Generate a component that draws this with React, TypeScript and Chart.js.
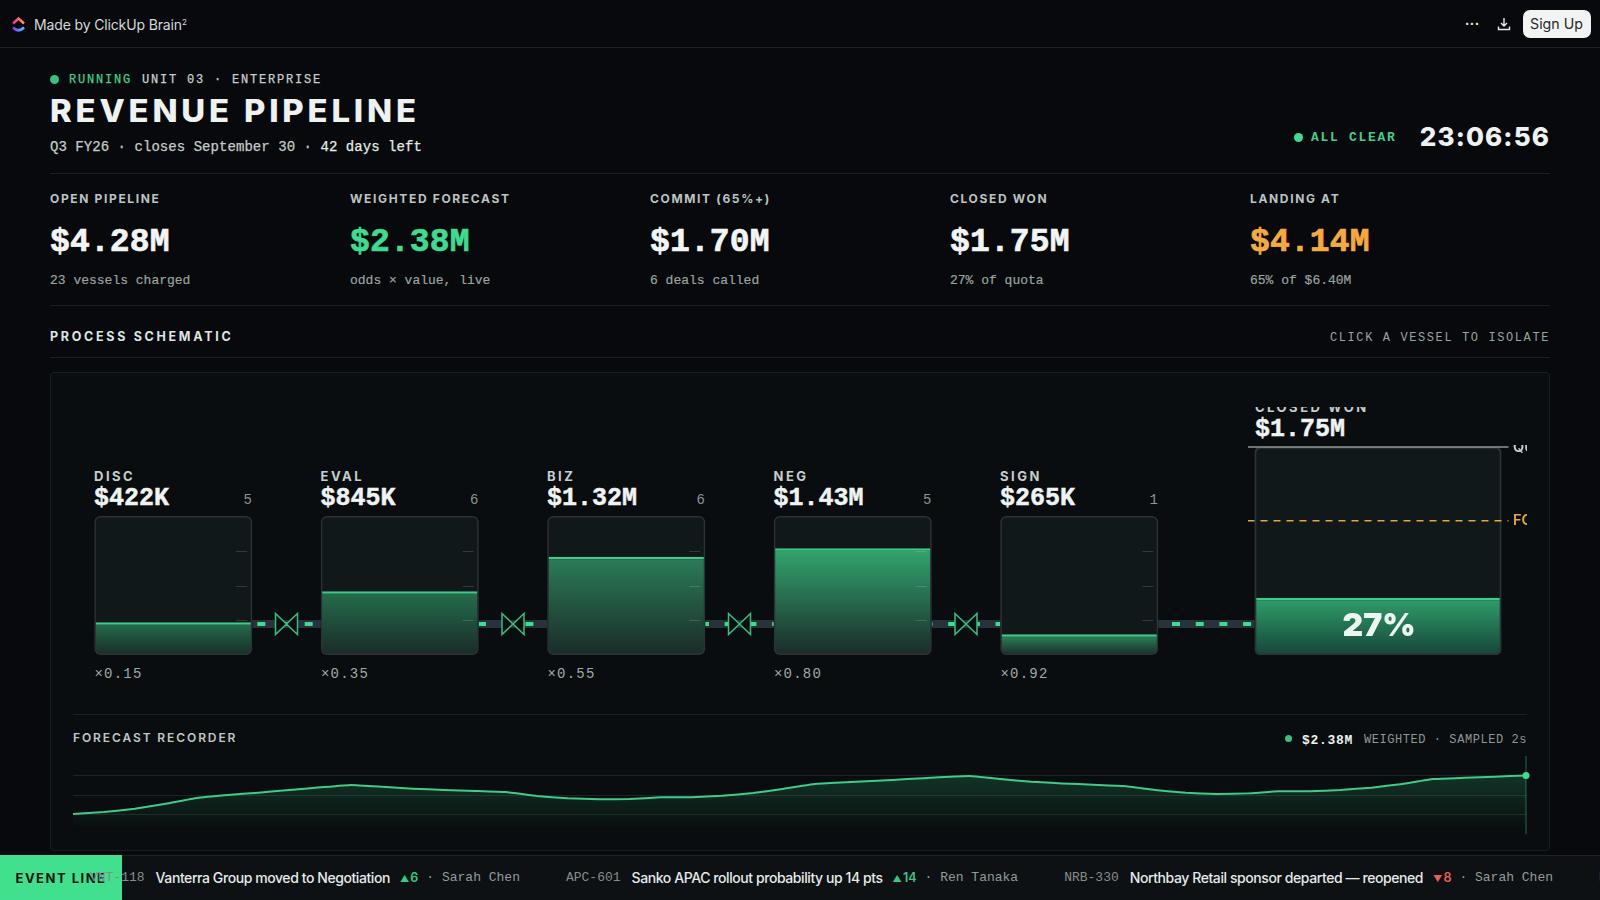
import { useEffect, useRef } from "react";
import type { CSSProperties, ReactNode } from "react";
import { Chart, registerables } from "chart.js";

Chart.register(...registerables);

const stageLabels = ["DISC", "EVAL", "BIZ", "NEG", "SIGN"];
const stageAmounts = ["$422K", "$845K", "$1.32M", "$1.43M", "$265K"];
const stageCounts = [5, 6, 6, 5, 1];
const stageOdds = ["×0.15", "×0.35", "×0.55", "×0.80", "×0.92"];
// fill level of each vessel, % of its height
const stageLevels = [23.5, 45.8, 70.7, 76.8, 14.9];
const tankMarks = [25, 50, 75];

const closedLabels = ["CLOSED WON"];
const closedLevels = [27.5];
const closedText = "27%";
const closedAmount = "$1.75M";
const quotaLevel = 100;
const forecastLevel = 64.6;

// forecast in $M, one sample per step
const recorderValues = [
  2.143, 2.155, 2.176, 2.206, 2.242, 2.26, 2.274, 2.291, 2.307, 2.322, 2.311, 2.299,
  2.291, 2.285, 2.278, 2.254, 2.24, 2.234, 2.235, 2.246, 2.246, 2.256, 2.272, 2.299,
  2.328, 2.338, 2.348, 2.358, 2.369, 2.377, 2.358, 2.342, 2.331, 2.323, 2.315, 2.291,
  2.274, 2.266, 2.27, 2.283, 2.283, 2.291, 2.305, 2.328, 2.358, 2.366, 2.373, 2.38,
];

const kpiLabels = ["OPEN PIPELINE", "WEIGHTED FORECAST", "COMMIT (65%+)", "CLOSED WON", "LANDING AT"];
const kpiValues = ["$4.28M", "$2.38M", "$1.70M", "$1.75M", "$4.14M"];
const kpiNotes = ["23 vessels charged", "odds × value, live", "6 deals called", "27% of quota", "65% of $6.40M"];

const tickerCodes = ["VNT-118", "APC-601", "NRB-330", "HLX-204"];
const tickerTitles = [
  "Vanterra Group moved to Negotiation",
  "Sanko APAC rollout probability up 14 pts",
  "Northbay Retail sponsor departed — reopened",
  "",
];
const tickerArrows = ["▲", "▲", "▼", ""];
const tickerDeltas = ["6", "14", "8", ""];
const tickerOwners = ["Sarah Chen", "Ren Tanaka", "Sarah Chen", ""];

const MONO = '"Liberation Mono", monospace';
const SANS = 'Inter, "Liberation Sans", sans-serif';
const GREEN = "#3ddc8f";
const LINE = "#1b2022";

const fillTops = ["#24704c", "#246e4c", "#2b7d57", "#33a56e", "#2a8a5e"];

function barGradient(c: any, top: string, bottom: string) {
  const area = c.chart.chartArea;
  if (!area || typeof c.raw !== "number") return top;
  const y = c.chart.scales.y.getPixelForValue(c.raw);
  const g = c.chart.ctx.createLinearGradient(0, y, 0, area.bottom);
  g.addColorStop(0, top);
  g.addColorStop(1, bottom);
  return g;
}

const tankMarksPlugin = {
  id: "tankMarks",
  afterDatasetsDraw(chart: any) {
    const { ctx, scales } = chart;
    const bars = chart.getDatasetMeta(0).data;
    ctx.save();
    ctx.strokeStyle = "rgba(255,255,255,0.15)";
    ctx.lineWidth = 1;
    bars.forEach((bar: any) => {
      const right = bar.x + 79 - 5;
      tankMarks.forEach((m) => {
        const y = Math.round(scales.y.getPixelForValue(m)) + 0.5;
        ctx.beginPath();
        ctx.moveTo(right - 11, y);
        ctx.lineTo(right, y);
        ctx.stroke();
      });
    });
    ctx.restore();
  },
};

const closedLinesPlugin = {
  id: "closedLines",
  afterDatasetsDraw(chart: any) {
    const { ctx, scales, chartArea } = chart;
    const refLine = (level: number, color: string, text: string, dash: number[], width: number, labelColor: string) => {
      const y = scales.y.getPixelForValue(level);
      ctx.save();
      ctx.strokeStyle = color;
      ctx.lineWidth = width;
      ctx.setLineDash(dash);
      ctx.beginPath();
      ctx.moveTo(chartArea.left - 7, y);
      ctx.lineTo(chartArea.right + 7, y);
      ctx.stroke();
      ctx.setLineDash([]);
      ctx.fillStyle = labelColor;
      ctx.font = `600 14.5px ${SANS}`;
      ctx.textBaseline = "middle";
      ctx.fillText(text, chartArea.right + 11.5, y + 0.5);
      ctx.restore();
    };
    refLine(quotaLevel, "#8f9897", "QUOTA", [], 1.5, "#c6cfcd");
    refLine(forecastLevel, "#e6a63d", "FORECAST", [7, 6], 1.5, "#e6a63d");

    const bar = chart.getDatasetMeta(0).data[0];
    ctx.save();
    ctx.fillStyle = "#eef6f2";
    ctx.font = `900 32px ${SANS}`;
    ctx.textAlign = "center";
    ctx.textBaseline = "middle";
    ctx.fillText(closedText, bar.x + 1, 181);
    ctx.restore();
  },
};

const cursorPlugin = {
  id: "cursor",
  afterDatasetsDraw(chart: any) {
    const { ctx, chartArea } = chart;
    const pt = chart.getDatasetMeta(0).data[recorderValues.length - 1];
    ctx.save();
    ctx.strokeStyle = "rgba(61,220,143,0.45)";
    ctx.lineWidth = 1;
    ctx.beginPath();
    ctx.moveTo(pt.x, chartArea.top);
    ctx.lineTo(pt.x, chartArea.bottom);
    ctx.stroke();
    ctx.fillStyle = GREEN;
    ctx.beginPath();
    ctx.arc(pt.x, pt.y, 3.5, 0, Math.PI * 2);
    ctx.fill();
    ctx.restore();
  },
};

function useChart(config: () => any) {
  const ref = useRef<HTMLCanvasElement | null>(null);
  useEffect(() => {
    const chart = new Chart(ref.current!, config());
    return () => chart.destroy();
  }, []);
  return ref;
}

const baseOptions = {
  animation: false,
  responsive: true,
  maintainAspectRatio: false,
  plugins: { legend: { display: false }, tooltip: { enabled: false } },
};

const tankStyle = {
  backgroundColor: "#10181a",
  borderWidth: 0,
  borderRadius: 6,
  borderSkipped: false,
};
const rimStyle = {
  backgroundColor: "transparent",
  borderColor: "#2b3337",
  borderWidth: 1.5,
  borderRadius: 6,
  borderSkipped: false,
};
const fillStyle = {
  borderColor: "#3fcb88",
  borderWidth: { top: 2.5, left: 0, right: 0, bottom: 0 },
  borderRadius: { topLeft: 0, topRight: 0, bottomLeft: 5, bottomRight: 5 },
  borderSkipped: false,
};

function StageChart() {
  const ref = useChart(() => ({
    type: "bar",
    data: {
      labels: stageLabels,
      datasets: [
        {
          data: stageLevels,
          order: 2,
          barPercentage: 156 / 226.5,
          categoryPercentage: 1,
          backgroundColor: (c: any) => barGradient(c, fillTops[c.dataIndex] ?? fillTops[0], "#1a2b29"),
          ...fillStyle,
        },
        {
          data: stageLabels.map(() => 100),
          order: 3,
          barPercentage: 158 / 226.5,
          categoryPercentage: 1,
          ...tankStyle,
        },
        {
          data: stageLabels.map(() => 100),
          order: 1,
          barPercentage: 158 / 226.5,
          categoryPercentage: 1,
          ...rimStyle,
        },
      ],
    },
    options: {
      ...baseOptions,
      scales: {
        x: { display: false, stacked: true },
        y: { display: false, min: 0, max: 100 },
      },
    },
    plugins: [tankMarksPlugin],
  }));
  return (
    <div style={{ position: "absolute", left: 59.5, top: 516, width: 1132.5, height: 139 }}>
      <canvas ref={ref} />
    </div>
  );
}

function ClosedChart() {
  const ref = useChart(() => ({
    type: "bar",
    data: {
      labels: closedLabels,
      datasets: [
        {
          data: closedLevels,
          order: 2,
          barPercentage: 244 / 246,
          categoryPercentage: 1,
          backgroundColor: (c: any) => barGradient(c, "#2f9f69", "#16453a"),
          ...fillStyle,
        },
        {
          data: [100],
          order: 3,
          barPercentage: 1,
          categoryPercentage: 1,
          ...tankStyle,
        },
        {
          data: [100],
          order: 1,
          barPercentage: 1,
          categoryPercentage: 1,
          ...rimStyle,
        },
      ],
    },
    options: {
      ...baseOptions,
      layout: { padding: { left: 6.5, right: 25.5, top: 2, bottom: 0 } },
      scales: {
        x: { display: false, stacked: true },
        y: { display: false, min: 0, max: 100 },
      },
    },
    plugins: [closedLinesPlugin],
  }));
  return (
    <div style={{ position: "absolute", left: 1248, top: 445, width: 279, height: 210 }}>
      <canvas ref={ref} />
    </div>
  );
}

function RecorderChart() {
  const ref = useChart(() => ({
    type: "line",
    data: {
      labels: recorderValues.map((_, i) => i),
      datasets: [
        {
          data: recorderValues,
          borderColor: "#3fcb88",
          borderWidth: 2,
          pointRadius: 0,
          tension: 0.1,
          fill: "start",
          backgroundColor: (c: any) => {
            const area = c.chart.chartArea;
            if (!area) return "transparent";
            const g = c.chart.ctx.createLinearGradient(0, area.top, 0, area.bottom);
            g.addColorStop(0, "rgba(61,220,143,0.26)");
            g.addColorStop(0.95, "rgba(61,220,143,0)");
            return g;
          },
        },
      ],
    },
    options: {
      ...baseOptions,
      layout: { padding: { left: 0, right: 5, top: 0, bottom: 0 } },
      scales: {
        x: { display: false, offset: false },
        y: {
          min: 2.02,
          max: 2.5,
          border: { display: false },
          ticks: { display: false, stepSize: 0.12 },
          afterFit: (s: any) => {
            s.width = 0;
          },
          grid: {
            drawTicks: false,
            color: (c: any) => (c.index === 0 || c.index === 4 ? "transparent" : "#1e2325"),
          },
        },
      },
    },
    plugins: [cursorPlugin],
  }));
  return (
    <div style={{ position: "absolute", left: 73, top: 756, width: 1458, height: 78 }}>
      <canvas ref={ref} />
    </div>
  );
}

function T(props: { x?: number; right?: number; y: number; style?: CSSProperties; children: ReactNode }) {
  const { x, right, y, style, children } = props;
  return (
    <div
      style={{
        position: "absolute",
        left: x,
        right: right !== undefined ? 1600 - right : undefined,
        top: y,
        transform: "translateY(-50%)",
        whiteSpace: "nowrap",
        lineHeight: 1,
        ...style,
      }}
    >
      {children}
    </div>
  );
}

function Rule(props: { x: number; y: number; w: number; color?: string }) {
  return (
    <div
      style={{
        position: "absolute",
        left: props.x,
        top: props.y,
        width: props.w,
        height: 1,
        background: props.color ?? LINE,
      }}
    />
  );
}

function Dot(props: { x: number; y: number; r: number; color: string }) {
  return (
    <div
      style={{
        position: "absolute",
        left: props.x - props.r,
        top: props.y - props.r,
        width: props.r * 2,
        height: props.r * 2,
        borderRadius: "50%",
        background: props.color,
      }}
    />
  );
}

function TopBar() {
  return (
    <>
      <svg style={{ position: "absolute", left: 11, top: 15 }} width="15" height="18" viewBox="0 0 15 18">
        <defs>
          <linearGradient id="lgTop" x1="0" x2="1" y1="0" y2="0">
            <stop offset="0" stopColor="#e8359a" />
            <stop offset="1" stopColor="#ffa12b" />
          </linearGradient>
          <linearGradient id="lgBot" x1="0" x2="1" y1="0" y2="0">
            <stop offset="0" stopColor="#8930fd" />
            <stop offset="1" stopColor="#49ccf9" />
          </linearGradient>
        </defs>
        <path d="M2 8.5 L7.5 3.5 L13 8.5" fill="none" stroke="url(#lgTop)" strokeWidth="2.6" />
        <path d="M2 12.5 Q7.5 18 13 12.5" fill="none" stroke="url(#lgBot)" strokeWidth="2.6" />
      </svg>
      <T x={34} y={24} style={{ font: `400 14px ${SANS}`, letterSpacing: -0.14, color: "#d5d8d8" }}>
        Made by ClickUp Brain<sup style={{ fontSize: 8, lineHeight: 0, verticalAlign: 5 }}>2</sup>
      </T>
      <Rule x={0} y={47} w={1600} color="#1d2123" />
      <T x={1465} y={22.5} style={{ font: `700 13px ${SANS}`, letterSpacing: 0.5, color: "#e8eaea" }}>
        ···
      </T>
      <svg style={{ position: "absolute", left: 1497, top: 17 }} width="14" height="14" viewBox="0 0 14 14">
        <path
          d="M7 1 V8.5 M4 6 L7 9 L10 6 M1.5 9.5 V12.5 H12.5 V9.5"
          fill="none"
          stroke="#e8eaea"
          strokeWidth="1.4"
        />
      </svg>
      <div
        style={{
          position: "absolute",
          left: 1522.5,
          top: 10,
          width: 68,
          height: 28,
          borderRadius: 7,
          background: "#f2f3f3",
          color: "#26292b",
          font: `400 14.2px ${SANS}`,
          textAlign: "center",
          lineHeight: "28px",
        }}
      >
        Sign Up
      </div>
    </>
  );
}

function Header() {
  const monoSmall = { font: `400 12px ${MONO}`, letterSpacing: 1.8, WebkitTextStroke: "0.25px currentColor" };
  const heavy = { WebkitTextStroke: "0.7px currentColor" };
  return (
    <>
      <Dot x={54.5} y={79} r={4.5} color="#35c27e" />
      <T x={69} y={79.5} style={{ ...monoSmall, color: "#41cf89" }}>
        RUNNING
      </T>
      <T x={142} y={79.5} style={{ ...monoSmall, color: "#c9d0ce" }}>
        UNIT 03 · ENTERPRISE
      </T>
      <T
        x={50}
        y={110}
        style={{
          font: `800 31px ${SANS}`,
          letterSpacing: 3.6,
          color: "#eef2f1",
          transform: "translateY(-50%) scaleX(1.06)",
          transformOrigin: "left center",
        }}
      >
        REVENUE PIPELINE
      </T>
      <T
        x={50}
        y={147}
        style={{ font: `400 14px ${MONO}`, letterSpacing: 0.05, WebkitTextStroke: "0.25px currentColor", color: "#c4cbc9" }}
      >
        Q3 FY26 · closes September 30 · <span style={{ color: "#e6eaea" }}>42 days left</span>
      </T>
      <Dot x={1298.5} y={137} r={4.5} color={GREEN} />
      <T x={1311} y={136.5} style={{ font: `700 13px ${MONO}`, letterSpacing: 1.7, color: "#41cf89" }}>
        ALL CLEAR
      </T>
      <T right={1550} y={136} style={{ font: `800 26px ${SANS}`, letterSpacing: 1.1, color: "#eef2f1" }}>
        23:06:56
      </T>
      <Rule x={50} y={173} w={1500} />
      {kpiLabels.map((label, i) => {
        const x = 50 + 300 * i;
        const color = i === 1 ? "#3ddc8f" : i === 4 ? "#f3ab3f" : "#f2f5f4";
        return (
          <div key={label}>
            <T x={x} y={198} style={{ font: `700 12px ${SANS}`, letterSpacing: 1.65, color: "#bcc4c2" }}>
              {label}
            </T>
            <T x={x} y={242} style={{ font: `700 33px ${MONO}`, letterSpacing: 0.15, ...heavy, color }}>
              {kpiValues[i]}
            </T>
            <T x={x} y={279.5} style={{ font: `400 13px ${MONO}`, WebkitTextStroke: "0.2px currentColor", color: "#9aa3a1" }}>
              {kpiNotes[i]}
            </T>
          </div>
        );
      })}
      <Rule x={50} y={305} w={1500} />
      <T x={50} y={336} style={{ font: `700 12.5px ${SANS}`, letterSpacing: 2.7, color: "#dfe4e3" }}>
        PROCESS SCHEMATIC
      </T>
      <T right={1550} y={337.5} style={{ font: `400 12px ${MONO}`, letterSpacing: 1.6, color: "#9aa3a1" }}>
        CLICK A VESSEL TO ISOLATE
      </T>
      <Rule x={50} y={357} w={1500} />
    </>
  );
}

function Pipes() {
  const dashes = [
    [257.3, 321],
    [478, 548],
    [701, 774],
    [924.5, 1001],
    [1172, 1255],
  ];
  const valves = [286.5, 513, 739.5, 966];
  return (
    <svg style={{ position: "absolute", left: 0, top: 0 }} width="1600" height="900">
      <rect x="252" y="620" width="1003" height="8" fill="#28323a" />
      {dashes.map(([a, b]) => (
        <line key={a} x1={a} x2={b} y1="624" y2="624" stroke={GREEN} strokeWidth="4" strokeDasharray="8 15.7" />
      ))}
      {valves.map((x) => (
        <path
          key={x}
          d={`M${x - 11} ${613.5} L${x + 11} ${634.5} V${613.5} L${x - 11} ${634.5} Z`}
          fill="#0a0e10"
          stroke="#35bf7d"
          strokeWidth="1.5"
        />
      ))}
    </svg>
  );
}

function StageText() {
  const label = { font: `700 13px ${SANS}`, letterSpacing: 2.5, color: "#c6cfcd" };
  const amount = { font: `700 25px ${MONO}`, WebkitTextStroke: "0.5px currentColor", color: "#eff3f2" };
  return (
    <>
      {stageLabels.map((name, i) => {
        const x = 94 + 226.5 * i;
        return (
          <div key={name}>
            <T x={x} y={476} style={label}>
              {name}
            </T>
            <T x={x} y={498} style={amount}>
              {stageAmounts[i]}
            </T>
            <T right={x + 158} y={500} style={{ font: `400 14px ${MONO}`, color: "#8b9492" }}>
              {stageCounts[i]}
            </T>
            <T x={x + 0.5} y={674} style={{ font: `400 14px ${MONO}`, letterSpacing: 1.2, color: "#a1a9a7" }}>
              {stageOdds[i]}
            </T>
          </div>
        );
      })}
      <div style={{ position: "absolute", left: 1255, top: 407, width: 270, height: 7, overflow: "hidden" }}>
        <T x={0} y={-0.5} style={label}>
          {closedLabels[0]}
        </T>
      </div>
      <T x={1255} y={429} style={amount}>
        {closedAmount}
      </T>
    </>
  );
}

function RecorderHead() {
  return (
    <>
      <Rule x={73} y={714} w={1454} />
      <T x={73} y={736.5} style={{ font: `600 12px ${SANS}`, letterSpacing: 1.9, color: "#c0c8c6" }}>
        FORECAST RECORDER
      </T>
      <Dot x={1288} y={738.5} r={3.5} color="#35c27e" />
      <T x={1302} y={740} style={{ font: `700 13px ${MONO}`, letterSpacing: 0.7, color: "#eef2f1" }}>
        $2.38M
      </T>
      <T right={1527} y={740} style={{ font: `400 12px ${MONO}`, letterSpacing: 0.56, color: "#8f9896" }}>
        WEIGHTED · SAMPLED 2s
      </T>
    </>
  );
}

function Ticker() {
  return (
    <>
      <div
        style={{
          position: "absolute",
          left: 0,
          top: 855,
          width: 1600,
          height: 45,
          background: "#0d1113",
          borderTop: "1px solid #1d2224",
          boxSizing: "border-box",
        }}
      />
      <div style={{ position: "absolute", left: 0, top: 855, width: 122, height: 45, background: "#41e08f" }} />
      <T x={15.5} y={877.5} style={{ font: `700 13px ${SANS}`, letterSpacing: 1.5, color: "#07130d" }}>
        EVENT LINE
      </T>
      <div
        style={{
          position: "absolute",
          left: 90,
          top: 855,
          width: 1510,
          height: 45,
          overflow: "hidden",
          display: "flex",
          alignItems: "center",
          whiteSpace: "nowrap",
        }}
      >
        {tickerCodes.map((code, i) => (
          <div key={code} style={{ display: "flex", alignItems: "center", marginRight: 46, flex: "none" }}>
            <span style={{ font: `400 13px ${MONO}`, color: "#858e8c", marginRight: 11 }}>{code}</span>
            <span style={{ font: `500 14px ${SANS}`, letterSpacing: -0.42, color: "#e6eaea", marginRight: 10 }}>
              {tickerTitles[i]}
            </span>
            <span
              style={{
                font: `600 12.5px ${SANS}`,
                color: tickerArrows[i] === "▼" ? "#e8604f" : "#36c880",
                marginRight: 8,
              }}
            >
              <span style={{ fontSize: 9, marginRight: 1 }}>{tickerArrows[i]}</span>
              {tickerDeltas[i]}
            </span>
            {tickerOwners[i] && (
              <span style={{ font: `400 13px ${MONO}`, color: "#939c9a" }}>· {tickerOwners[i]}</span>
            )}
          </div>
        ))}
      </div>
    </>
  );
}

export default function App() {
  return (
    <div
      style={{
        position: "relative",
        width: 1600,
        height: 900,
        overflow: "hidden",
        background: "#07090c",
      }}
    >
      <style>{"body{margin:0;background:#07090c}"}</style>
      <TopBar />
      <Header />
      <div
        style={{
          position: "absolute",
          left: 50,
          top: 372,
          width: 1500,
          height: 479,
          boxSizing: "border-box",
          background: "#090d0f",
          border: "1px solid #191f21",
          borderRadius: 4,
        }}
      />
      <Pipes />
      <StageChart />
      <ClosedChart />
      <StageText />
      <RecorderHead />
      <RecorderChart />
      <Ticker />
    </div>
  );
}
